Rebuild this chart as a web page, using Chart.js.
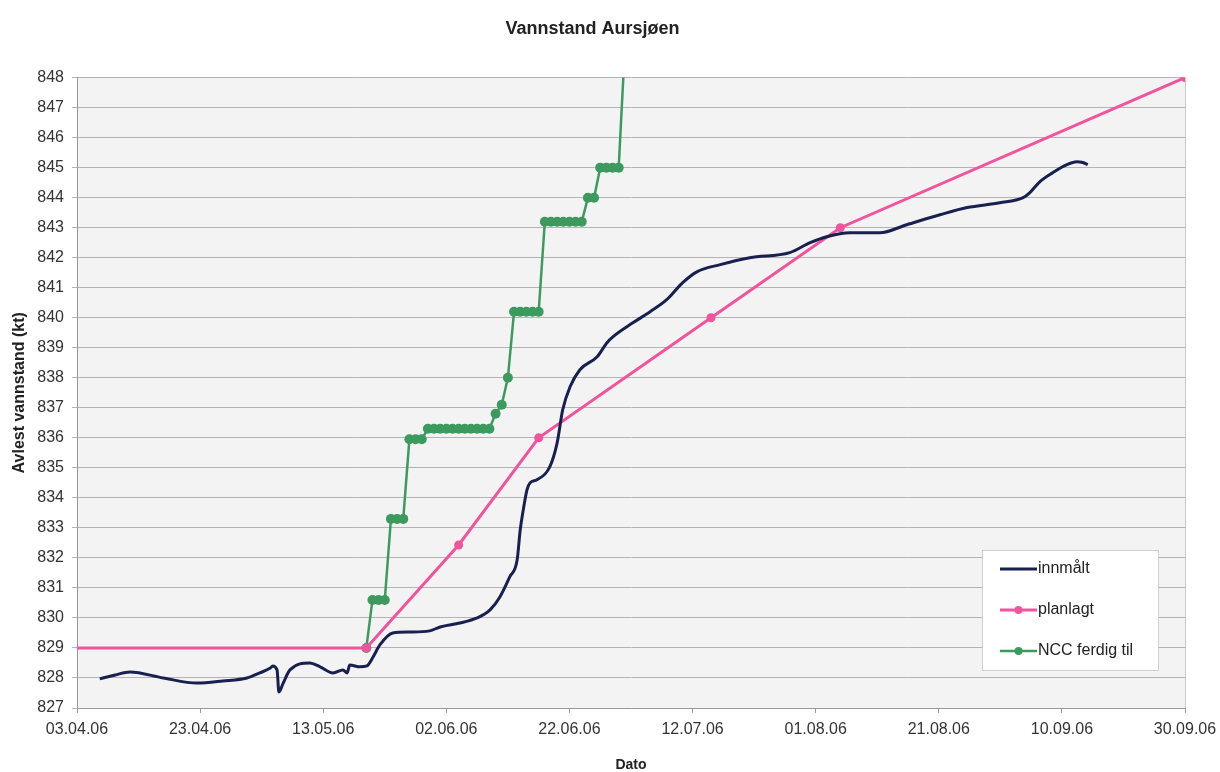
<!DOCTYPE html>
<html>
<head>
<meta charset="utf-8">
<script src="https://cdn.jsdelivr.net/npm/chart.js@4.4.0/dist/chart.umd.min.js"></script>
<style>
  html, body { margin: 0; padding: 0; background: #fff; }
  #wrap { width: 1220px; height: 772px; }
</style>
</head>
<body>
<div id="wrap"><canvas id="chart"></canvas></div>
<script>
// dager regnet fra 03.04.06
const xTickLabels = ["03.04.06", "23.04.06", "13.05.06", "02.06.06", "22.06.06",
  "12.07.06", "01.08.06", "21.08.06", "10.09.06", "30.09.06"];

const innmaltDag = [3.7, 6.2, 8.6, 14.0, 19.5, 23.7, 27.6, 29.7, 31.4, 31.8, 32.5, 32.8, 33.5,
  34.6, 37.8, 39.5, 41.6, 43.2, 43.9, 44.3, 46.0, 47.1, 48.1, 49.2, 51.3, 54.1, 57.3, 59.0,
  62.2, 65.0, 67.1, 68.7, 70.3, 71.5, 72.0, 72.5, 73.1, 73.6, 74.7, 76.8, 78.0, 78.9, 80.1,
  81.7, 84.5, 86.1, 87.1, 90.3, 93.1, 95.8, 98.4, 100.7, 104.5, 109.3, 115.8, 119.1, 121.8,
  125.6, 130.4, 134.8, 140.2, 144.6, 149.9, 153.7, 154.8, 156.4, 158.5, 160.8, 162.4, 163.4, 164.2];
const innmaltVerdi = [827.97, 828.1, 828.2, 828.0, 827.83, 827.9, 828.0, 828.17, 828.33, 828.4,
  828.27, 827.53, 827.83, 828.27, 828.5, 828.37, 828.17, 828.27, 828.17, 828.43, 828.37, 828.4,
  828.7, 829.1, 829.5, 829.53, 829.57, 829.7, 829.83, 830.0, 830.27, 830.7, 831.37, 831.93,
  832.93, 833.6, 834.27, 834.5, 834.6, 835.03, 835.83, 836.93, 837.7, 838.27, 838.7, 839.17,
  839.37, 839.83, 840.2, 840.6, 841.17, 841.53, 841.77, 842.0, 842.17, 842.5, 842.7, 842.83,
  842.83, 843.1, 843.43, 843.67, 843.83, 844.0, 844.17, 844.53, 844.83, 845.1, 845.2, 845.17, 845.1];

const planlagtDag = [0, 47, 62, 75, 103, 124, 180];
const planlagtVerdi = [829, 829, 832.43, 836, 840, 843, 848];

const nccDag = [47, 48, 49, 50, 51, 52, 53, 54, 55, 56, 57, 58, 59, 60, 61, 62, 63, 64, 65, 66,
  67, 68, 69, 70, 71, 72, 73, 74, 75, 76, 77, 78, 79, 80, 81, 82, 83, 84, 85, 86, 87, 88, 89];
const nccVerdi = [829, 830.6, 830.6, 830.6, 833.3, 833.3, 833.3, 835.95, 835.95, 835.95,
  836.3, 836.3, 836.3, 836.3, 836.3, 836.3, 836.3, 836.3, 836.3, 836.3, 836.3,
  836.8, 837.1, 838, 840.2, 840.2, 840.2, 840.2, 840.2,
  843.2, 843.2, 843.2, 843.2, 843.2, 843.2, 843.2, 844, 844, 845, 845, 845, 845, 849];

function toPoints(xs, ys) {
  return xs.map((x, i) => ({ x: x, y: ys[i] }));
}

const FONT = "'Liberation Sans', Arial, Helvetica, sans-serif";

const plotBg = {
  id: "plotBg",
  beforeDraw(chart) {
    const { ctx, chartArea: a } = chart;
    ctx.save();
    ctx.fillStyle = "#f3f3f3";
    ctx.fillRect(a.left, a.top, a.right - a.left, a.bottom - a.top);
    ctx.strokeStyle = "#c8c8c8";
    ctx.lineWidth = 1;
    ctx.beginPath();
    ctx.moveTo(a.right + 0.5, a.top);
    ctx.lineTo(a.right + 0.5, a.bottom);
    ctx.stroke();
    ctx.restore();
  }
};

// legendeboks inne i plottet, nede til høyre
const boxLegend = {
  id: "boxLegend",
  afterDraw(chart) {
    const { ctx, chartArea: a } = chart;
    const w = 176, h = 120;
    const x0 = a.right - 27 - w, y0 = a.bottom - 38 - h;
    ctx.save();
    ctx.fillStyle = "#ffffff";
    ctx.fillRect(x0, y0, w, h);
    ctx.strokeStyle = "#d0d0d0";
    ctx.lineWidth = 1;
    ctx.strokeRect(x0 + 0.5, y0 + 0.5, w, h);
    chart.data.datasets.forEach((ds, i) => {
      const y = y0 + 19 + i * 41;
      const lx = x0 + 18, rx = x0 + 55;
      ctx.strokeStyle = ds.borderColor;
      ctx.lineWidth = ds.borderWidth;
      ctx.beginPath();
      ctx.moveTo(lx, y);
      ctx.lineTo(rx, y);
      ctx.stroke();
      if (ds.legendMarker) {
        ctx.fillStyle = ds.borderColor;
        ctx.beginPath();
        ctx.arc((lx + rx) / 2, y, 4, 0, Math.PI * 2);
        ctx.fill();
      }
      ctx.fillStyle = "#222";
      ctx.font = "16px " + FONT;
      ctx.textBaseline = "middle";
      ctx.fillText(ds.label, rx + 1, y);
    });
    ctx.restore();
  }
};

const ctx = document.getElementById("chart").getContext("2d");
new Chart(ctx, {
  type: "line",
  data: {
    datasets: [
      {
        label: "innmålt",
        data: toPoints(innmaltDag, innmaltVerdi),
        borderColor: "#17204f",
        borderWidth: 3,
        pointRadius: 0,
        cubicInterpolationMode: "monotone",
        legendMarker: false,
      },
      {
        label: "planlagt",
        data: toPoints(planlagtDag, planlagtVerdi),
        borderColor: "#f0549d",
        backgroundColor: "#f0549d",
        borderWidth: 3,
        pointRadius: (c) => (c.dataIndex === 0 ? 0 : 4.5),
        pointBorderWidth: 0,
        legendMarker: true,
      },
      {
        label: "NCC ferdig til",
        data: toPoints(nccDag, nccVerdi),
        borderColor: "#3d9a5f",
        backgroundColor: "#3d9a5f",
        borderWidth: 2.5,
        pointRadius: 5,
        pointBorderWidth: 0,
        legendMarker: true,
      },
    ],
  },
  options: {
    responsive: true,
    maintainAspectRatio: false,
    animation: false,
    layout: { padding: { top: 0, right: 35, bottom: 0, left: 0 } },
    plugins: {
      legend: { display: false },
      tooltip: { enabled: false },
      title: {
        display: true,
        text: "Vannstand Aursjøen",
        color: "#222",
        font: { family: FONT, size: 18, weight: "bold" },
        padding: { top: 18, bottom: 38 },
      },
    },
    scales: {
      x: {
        type: "linear",
        min: 0,
        max: 180,
        afterFit: (s) => { s.height = 64; s.paddingRight = 30; s.paddingLeft = 30; },
        ticks: {
          stepSize: 20,
          color: "#333",
          padding: 7,
          maxRotation: 0,
          font: { family: FONT, size: 16 },
          callback: (v, i) => xTickLabels[i],
        },
        grid: { drawOnChartArea: false, drawTicks: true, tickLength: 5, color: "#999" },
        border: { color: "#999" },
        title: {
          display: true,
          text: "Dato",
          color: "#222",
          font: { family: FONT, size: 14, weight: "bold" },
          padding: { top: 0, bottom: -2 },
        },
      },
      y: {
        min: 827,
        max: 848,
        afterFit: (s) => { s.width = 77; },
        ticks: {
          stepSize: 1,
          color: "#333",
          padding: 8,
          font: { family: FONT, size: 16 },
        },
        grid: { color: "#b4b4b4", tickLength: 5 },
        border: { color: "#999" },
        title: {
          display: true,
          text: "Avlest vannstand (kt)",
          color: "#222",
          font: { family: FONT, size: 16, weight: "bold" },
          padding: { top: 10, bottom: 0 },
        },
      },
    },
  },
  plugins: [plotBg, boxLegend],
});
</script>
</body>
</html>
